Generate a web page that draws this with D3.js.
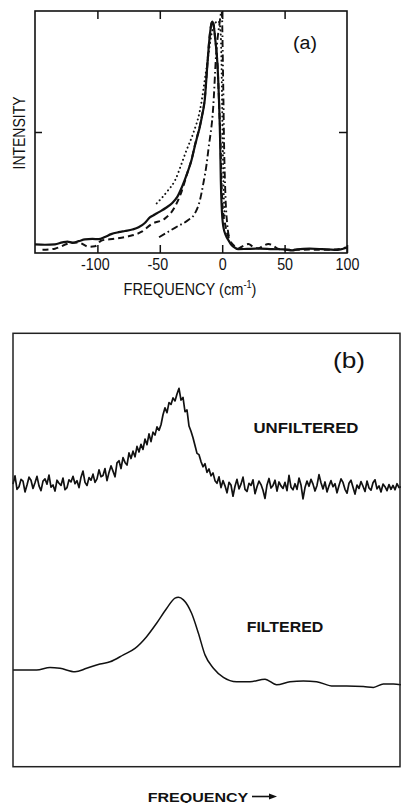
<!DOCTYPE html>
<html>
<head>
<meta charset="utf-8">
<script src="https://cdn.jsdelivr.net/npm/d3@7"></script>
<style>
  html, body { margin: 0; padding: 0; background: #fff; }
  svg { display: block; }
</style>
</head>
<body>
<svg id="chart" width="401" height="803"></svg>
<script>
// ---------- Panel (a): line shapes, intensity vs frequency (cm^-1) ----------
const freqTicks = [-100, -50, 0, 50, 100];
const intensityTicks = [0.5];

// measured spectrum (solid)
const spectrumSolid = [
  [-150, 0.036], [-142, 0.034], [-134, 0.036], [-128, 0.044], [-124, 0.047], [-120, 0.043],
  [-115, 0.049], [-110, 0.056], [-104, 0.058], [-99, 0.057], [-94, 0.066], [-89, 0.078],
  [-83, 0.086], [-78, 0.091], [-72, 0.097], [-67, 0.106], [-62, 0.124], [-58, 0.147],
  [-54, 0.159], [-50, 0.171], [-45, 0.187], [-40, 0.207], [-36, 0.232], [-32, 0.276],
  [-28, 0.33], [-24.5, 0.385], [-22, 0.44], [-20, 0.48], [-18, 0.52], [-16, 0.57],
  [-14, 0.632], [-12, 0.77], [-10.3, 0.88], [-8.7, 0.945], [-8, 0.956], [-7, 0.945],
  [-5.5, 0.88], [-3.8, 0.78], [-2.5, 0.62], [-1.6, 0.45], [-1.1, 0.3], [-0.4, 0.19],
  [0.9, 0.109], [3, 0.072], [4.9, 0.054], [7, 0.036], [8.9, 0.026], [12.9, 0.016],
  [20, 0.017], [30, 0.018], [40, 0.016], [50, 0.015], [56, 0.011], [60, 0.015],
  [70, 0.018], [80, 0.016], [90, 0.013], [95, 0.015], [100, 0.022]
];

// dashed spectrum
const spectrumDashed = [
  [-144, 0.013], [-134, 0.018], [-123, 0.039], [-115, 0.043], [-107, 0.026], [-102, 0.028],
  [-96.6, 0.052], [-86, 0.059], [-75, 0.069], [-64.5, 0.088], [-56.5, 0.12], [-46, 0.142],
  [-38, 0.19], [-32.5, 0.255], [-28, 0.33], [-24.5, 0.387], [-22, 0.443], [-20, 0.483],
  [-18, 0.523], [-16, 0.573], [-14, 0.636], [-12, 0.773], [-10.3, 0.884], [-8.7, 0.948],
  [-8, 0.958], [-7, 0.946], [-5.5, 0.88], [-3.8, 0.78], [-2.5, 0.62], [-1.3, 0.45],
  [-0.6, 0.3], [0.3, 0.19], [2.2, 0.123], [4.9, 0.067], [8.9, 0.033], [12.9, 0.019],
  [17, 0.03], [21, 0.037], [25, 0.025], [29, 0.02], [33, 0.03], [37, 0.037],
  [41, 0.03], [44, 0.019], [50, 0.013], [60, 0.013], [70, 0.014], [80, 0.013],
  [90, 0.014], [100, 0.024]
];

// dotted spectrum
const spectrumDotted = [
  [-52.5, 0.205], [-43.2, 0.26], [-37.8, 0.30], [-32.5, 0.37], [-28.5, 0.426],
  [-23.2, 0.495], [-17.8, 0.59], [-12.4, 0.77], [-8.4, 0.908], [-4.4, 0.956],
  [-3, 0.958], [-1.5, 0.93], [-0.6, 0.8], [0, 0.6], [0.6, 0.4], [1.2, 0.25], [2, 0.15]
];

// dash-dot spectrum
const spectrumDashDot = [
  [-50.6, 0.065], [-43.2, 0.088], [-35.2, 0.112], [-27.2, 0.136], [-21.8, 0.164],
  [-17.8, 0.219], [-15.1, 0.288], [-12.4, 0.371], [-11.1, 0.426], [-7.1, 0.61],
  [-4.9, 0.818], [-2.3, 0.942], [-0.4, 1.0], [0.8, 0.7], [1.5, 0.45], [2.5, 0.25],
  [4, 0.12], [6, 0.06]
];

// ---------- Panel (b): raw and smoothed trace (arbitrary units) ----------
// raw trace, one reading per channel
const unfiltered = [
  65.2, 67.1, 64.0, 64.6, 66.3, 65.9, 63.4, 65.0, 66.8, 66.1,
  64.2, 65.5, 67.0, 64.8, 63.7, 65.9, 66.4, 65.2, 67.3, 64.5,
  65.0, 63.6, 66.1, 65.4, 64.9, 66.6, 63.9, 64.4, 66.2, 65.7,
  67.0, 65.3, 66.0, 64.4, 66.8, 68.2, 65.6, 64.9, 66.7, 66.1,
  67.5, 65.6, 66.4, 68.5, 66.9, 67.2, 68.8, 66.0, 67.9, 69.4,
  68.2, 66.9, 70.1, 70.6, 68.8, 71.3, 70.2, 69.6, 72.4, 71.1,
  72.8, 71.5, 73.9, 72.6, 74.4, 73.2, 75.6, 74.3, 76.8, 75.0,
  77.2, 76.5, 78.4, 77.6, 78.9, 81.2, 82.8, 81.7, 84.0, 83.6,
  85.1, 84.4, 86.0, 87.3, 84.6, 85.2, 81.9, 82.3, 78.6, 77.4,
  75.9, 74.1, 72.3, 72.0, 70.4, 69.2, 69.9, 67.9, 68.7, 67.1,
  67.8, 66.0, 65.4, 66.9, 64.4,
  66.0, 64.8, 63.2, 65.6, 65.0, 62.4, 64.7, 66.3, 64.1, 65.2,
  66.8, 64.0, 63.5, 65.4, 64.9, 66.2, 63.0, 64.6, 65.9, 65.1,
  63.8, 61.9, 65.0, 66.5, 64.3, 64.9, 66.1, 63.6, 65.7, 64.8,
  64.2, 65.6, 63.7, 67.2, 64.5, 63.9, 65.3, 64.0, 66.6, 65.0,
  61.8, 64.4, 65.9, 64.7, 66.3, 65.2, 63.6, 64.9, 67.4, 65.5,
  64.1, 65.7, 63.4, 64.8, 66.0, 64.6, 65.3, 63.2, 64.9, 66.4,
  65.6, 64.0, 63.1, 65.4, 66.1, 64.5, 62.9, 65.0, 64.2, 65.8,
  64.7, 63.5, 65.9, 64.3, 63.8, 65.5, 66.2, 64.1, 64.8, 63.4,
  65.2, 64.6, 63.7, 65.1, 64.0, 64.9, 63.9, 65.3, 64.4, 64.6
];

// smoothed trace: [channel, value]
const filtered = [
  [0, 22.3], [11.8, 22.3], [18.5, 22.9], [23.5, 22.7], [31, 21.9], [36.8, 22.7],
  [43.5, 23.7], [48.5, 24.2], [55.2, 25.8], [61, 27.3], [66.8, 30.0], [71.8, 33.1],
  [76.8, 36.5], [81, 38.9], [82.7, 39.1], [85.2, 38.5], [89.3, 35.4], [92.7, 30.8],
  [96, 25.8], [100.2, 22.7], [105.2, 20.6], [111.8, 19.6], [118.5, 19.6], [126, 20.2],
  [131.8, 18.9], [138.5, 19.6], [145.2, 19.8], [151.8, 19.6], [160.2, 18.6], [166.8, 18.6],
  [175.2, 18.5], [180.2, 18.3], [185.2, 19.1], [190.2, 19.1], [194, 18.9]
];

// ---------- drawing ----------
const svg = d3.select("#chart");
const ink = "#111";
const labelFont = "'Liberation Sans', Arial, sans-serif";

svg.append("rect").attr("width", 401).attr("height", 803).attr("fill", "#fff");

// squeeze a text to a given width
function fitWidth(sel, w) {
  sel.attr("textLength", w).attr("lengthAdjust", "spacingAndGlyphs");
}

// ---- panel (a)
const A = { left: 35, right: 347, top: 11, bottom: 253 };
const xA = d3.scaleLinear().domain([-150, 100]).range([A.left, A.right]);
const yA = d3.scaleLinear().domain([0, 1]).range([A.bottom, A.top]);

svg.append("defs").append("clipPath").attr("id", "clipA")
  .append("rect").attr("x", A.left).attr("y", A.top)
  .attr("width", A.right - A.left).attr("height", A.bottom - A.top);

const lineA = d3.line().x(d => xA(d[0])).y(d => yA(d[1])).curve(d3.curveMonotoneX);
const gA = svg.append("g").attr("clip-path", "url(#clipA)");

gA.append("path").datum(spectrumDashDot).attr("d", lineA)
  .attr("fill", "none").attr("stroke", ink).attr("stroke-width", 1.9)
  .attr("stroke-dasharray", "7 3 1.6 3");
gA.append("path").datum(spectrumDotted).attr("d", lineA)
  .attr("fill", "none").attr("stroke", ink).attr("stroke-width", 2)
  .attr("stroke-linecap", "round").attr("stroke-dasharray", "0.1 4.2");
gA.append("path").datum(spectrumDashed).attr("d", lineA)
  .attr("fill", "none").attr("stroke", ink).attr("stroke-width", 2)
  .attr("stroke-dasharray", "6 4");
gA.append("path").datum(spectrumSolid).attr("d", lineA)
  .attr("fill", "none").attr("stroke", ink).attr("stroke-width", 2.2);

// frame
svg.append("rect").attr("x", A.left).attr("y", A.top)
  .attr("width", A.right - A.left).attr("height", A.bottom - A.top)
  .attr("fill", "none").attr("stroke", ink).attr("stroke-width", 1.6);

// axes with inward ticks
function styleAxis(g) {
  g.select(".domain").remove();
  g.selectAll(".tick line").attr("stroke", ink).attr("stroke-width", 1.5);
}
const axB = svg.append("g").attr("transform", `translate(0,${A.bottom})`)
  .call(d3.axisBottom(xA).tickValues(freqTicks).tickSize(-8).tickPadding(5)
    .tickFormat(d => String(d)));
styleAxis(axB);
axB.selectAll(".tick text")
  .attr("font-family", labelFont).attr("font-size", 17).attr("fill", ink)
  .attr("dx", d => d < 0 ? -2.5 : 0)
  .each(function () { fitWidth(d3.select(this), this.getComputedTextLength() * 0.84); });

svg.append("g").attr("transform", `translate(0,${A.top})`)
  .call(d3.axisTop(xA).tickValues(freqTicks.slice(0, 4)).tickSize(-8).tickFormat(""))
  .call(styleAxis);
svg.append("g").attr("transform", `translate(${A.left},0)`)
  .call(d3.axisLeft(yA).tickValues(intensityTicks).tickSize(-7).tickFormat(""))
  .call(styleAxis);
svg.append("g").attr("transform", `translate(${A.right},0)`)
  .call(d3.axisRight(yA).tickValues(intensityTicks).tickSize(-8).tickFormat(""))
  .call(styleAxis);

// axis titles
const xTitle = svg.append("text")
  .attr("x", 190).attr("y", 295).attr("text-anchor", "middle")
  .attr("font-family", labelFont).attr("font-size", 16).attr("fill", ink);
xTitle.append("tspan").text("FREQUENCY (cm");
xTitle.append("tspan").attr("font-size", 10).attr("dy", -7).text("-1");
xTitle.append("tspan").attr("dy", 7).text(")");
{
  const w = xTitle.node().getComputedTextLength();
  const k = 133 / w;
  xTitle.attr("transform", `translate(190,0) scale(${k},1) translate(-190,0)`);
}

svg.append("text")
  .attr("transform", "translate(25,133) rotate(-90)")
  .attr("text-anchor", "middle")
  .attr("font-family", labelFont).attr("font-size", 16).attr("fill", ink)
  .text("INTENSITY")
  .call(fitWidth, 73);

svg.append("text").attr("x", 293).attr("y", 49)
  .attr("font-family", labelFont).attr("font-size", 18).attr("fill", ink)
  .text("(a)").call(fitWidth, 24);

// ---- panel (b)
const B = { left: 13, right: 400, top: 333.3, bottom: 766.7 };
const xB = d3.scaleLinear().domain([0, unfiltered.length - 1]).range([13, 401]);
const yB = d3.scaleLinear().domain([0, 100]).range([B.bottom, B.top]);

svg.append("path").datum(unfiltered)
  .attr("d", d3.line().x((d, i) => xB(i)).y(d => yB(d)))
  .attr("fill", "none").attr("stroke", ink).attr("stroke-width", 1.7)
  .attr("stroke-linejoin", "round");

svg.append("path").datum(filtered)
  .attr("d", d3.line().x(d => xB(d[0])).y(d => yB(d[1])).curve(d3.curveMonotoneX))
  .attr("fill", "none").attr("stroke", ink).attr("stroke-width", 1.5);

svg.append("rect").attr("x", B.left).attr("y", B.top)
  .attr("width", B.right - B.left).attr("height", B.bottom - B.top)
  .attr("fill", "none").attr("stroke", "#222").attr("stroke-width", 1.5);

svg.append("text").attr("x", 333).attr("y", 368)
  .attr("font-family", labelFont).attr("font-size", 22).attr("fill", ink)
  .text("(b)").call(fitWidth, 32);

svg.append("text").attr("x", 253.5).attr("y", 433.3)
  .attr("font-family", labelFont).attr("font-weight", "bold").attr("font-size", 14.5)
  .attr("fill", ink).text("UNFILTERED").call(fitWidth, 105);

svg.append("text").attr("x", 246.7).attr("y", 632.3)
  .attr("font-family", labelFont).attr("font-weight", "bold").attr("font-size", 14.5)
  .attr("fill", ink).text("FILTERED").call(fitWidth, 76.6);

svg.append("text").attr("x", 147.7).attr("y", 801.5)
  .attr("font-family", labelFont).attr("font-weight", "bold").attr("font-size", 13.5)
  .attr("fill", ink).text("FREQUENCY").call(fitWidth, 100.6);

// arrow after the frequency label
svg.append("line").attr("x1", 252).attr("x2", 271).attr("y1", 796.5).attr("y2", 796.5)
  .attr("stroke", ink).attr("stroke-width", 1.6);
svg.append("path").attr("d", "M269,793.5 L277,796.5 L269,799.5 Z").attr("fill", ink);
</script>
</body>
</html>
